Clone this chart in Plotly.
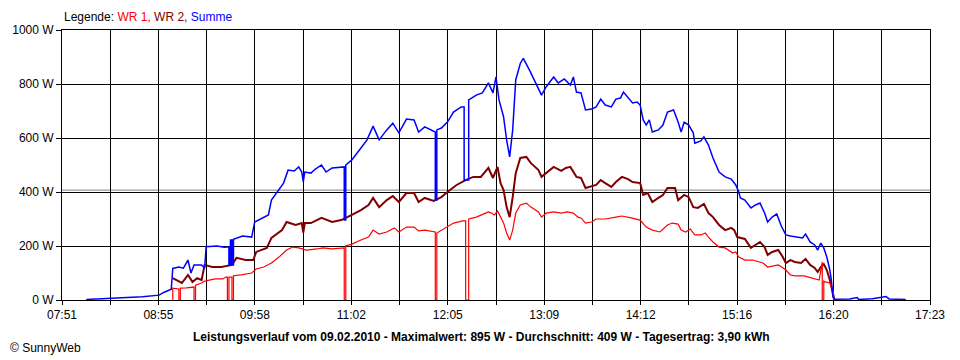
import numpy as np
import plotly.graph_objects as go

# ---------------- data ----------------
X_START = "07:51"
X_END = "17:23"
TICK_LABELS = ["07:51", "08:55", "09:58", "11:02", "12:05", "13:09", "14:12", "15:16", "16:20", "17:23"]
Y_TICKS = [0, 200, 400, 600, 800, 1000]
Y_TICK_LABELS = ["0 W", "200 W", "400 W", "600 W", "800 W", "1000 W"]

summe_times = [
    "08:07", "08:17", "08:30", "08:44", "08:55", "08:58", "09:03", "09:04", "09:08", "09:11",
    "09:14", "09:16", "09:18", "09:23", "09:25", "09:26", "09:33", "09:38", "09:41", "09:41",
    "09:42", "09:42", "09:43", "09:43", "09:44", "09:44", "09:50", "09:56", "09:58", "10:03",
    "10:07", "10:09", "10:14", "10:17", "10:20", "10:24", "10:27", "10:29", "10:30", "10:31",
    "10:35", "10:38", "10:42", "10:45", "10:49", "10:55", "10:57", "10:57", "10:58", "10:58",
    "11:02", "11:08", "11:12", "11:16", "11:20", "11:25", "11:29", "11:33", "11:38", "11:43",
    "11:46", "11:50", "11:56", "11:57", "11:57", "11:58", "11:58", "12:01", "12:05", "12:09",
    "12:14", "12:16", "12:16", "12:19", "12:19", "12:24", "12:28", "12:32", "12:35", "12:37",
    "12:39", "12:42", "12:44", "12:46", "12:48", "12:50", "12:53", "12:55", "12:59", "13:03",
    "13:07", "13:10", "13:15", "13:18", "13:22", "13:26", "13:28", "13:30", "13:33", "13:36",
    "13:40", "13:43", "13:46", "13:49", "13:53", "13:56", "13:59", "14:01", "14:04", "14:07",
    "14:10", "14:12", "14:14", "14:16", "14:18", "14:20", "14:24", "14:27", "14:30", "14:34",
    "14:37", "14:39", "14:41", "14:44", "14:47", "14:48", "14:52", "14:54", "14:57", "15:00",
    "15:04", "15:08", "15:12", "15:15", "15:17", "15:18", "15:21", "15:25", "15:28", "15:31",
    "15:34", "15:36", "15:39", "15:42", "15:45", "15:48", "15:51", "15:55", "15:59", "16:01",
    "16:04", "16:07", "16:09", "16:11", "16:13", "16:15", "16:17", "16:18", "16:19", "16:20",
    "16:30", "16:35", "16:36", "16:45", "16:54", "16:56", "17:07",
]
summe_values = [
    2, 4, 8, 12, 18, 28, 40, 117, 122, 118,
    148, 100, 130, 130, 118, 197, 200, 195, 197, 130,
    130, 222, 222, 130, 130, 225, 237, 233, 289, 304,
    315, 370, 407, 433, 481, 478, 493, 474, 437, 474,
    470, 485, 500, 474, 489, 493, 493, 296, 296, 500,
    519, 563, 593, 644, 593, 630, 655, 619, 670, 667,
    622, 641, 622, 622, 370, 370, 630, 637, 659, 696,
    715, 715, 444, 444, 741, 759, 767, 804, 767, 826,
    741, 678, 593, 530, 630, 815, 876, 895, 852, 807,
    759, 789, 826, 804, 819, 796, 826, 770, 767, 704,
    707, 715, 744, 722, 715, 744, 748, 770, 752, 730,
    733, 722, 667, 648, 667, 622, 630, 648, 696, 704,
    659, 622, 659, 648, 619, 581, 589, 604, 574, 526,
    474, 456, 448, 426, 400, 378, 370, 341, 352, 359,
    322, 289, 307, 319, 274, 241, 237, 233, 230, 244,
    215, 204, 185, 211, 193, 159, 111, 74, 11, 3,
    4, 9, 2, 5, 13, 4, 2,
]

wr1_times = [
    "09:04", "09:04", "09:08", "09:08", "09:09", "09:09", "09:13", "09:17", "09:18", "09:18",
    "09:19", "09:19", "09:23", "09:25", "09:32", "09:37", "09:39", "09:40", "09:40", "09:41",
    "09:41", "09:43", "09:43", "09:44", "09:44", "09:49", "09:56", "09:59", "10:04", "10:09",
    "10:14", "10:19", "10:23", "10:27", "10:32", "10:39", "10:43", "10:49", "10:55", "10:57",
    "10:57", "10:58", "10:58", "11:02", "11:08", "11:13", "11:16", "11:20", "11:25", "11:30",
    "11:33", "11:38", "11:43", "11:46", "11:50", "11:56", "11:57", "11:57", "11:58", "11:58",
    "12:04", "12:09", "12:15", "12:17", "12:17", "12:19", "12:19", "12:24", "12:29", "12:32",
    "12:34", "12:36", "12:38", "12:40", "12:42", "12:44", "12:46", "12:48", "12:50", "12:53",
    "12:57", "13:00", "13:05", "13:07", "13:10", "13:15", "13:20", "13:24", "13:28", "13:31",
    "13:33", "13:36", "13:40", "13:43", "13:49", "13:56", "14:00", "14:06", "14:12", "14:16",
    "14:20", "14:25", "14:30", "14:33", "14:37", "14:39", "14:42", "14:45", "14:48", "14:52",
    "14:55", "14:57", "15:00", "15:04", "15:08", "15:13", "15:15", "15:17", "15:21", "15:26",
    "15:30", "15:33", "15:36", "15:39", "15:43", "15:46", "15:48", "15:51", "15:54", "16:00",
    "16:03", "16:07", "16:10", "16:12", "16:12", "16:13", "16:13", "16:14", "16:17", "16:19",
    "16:20",
]
wr1_values = [
    0, 44, 41, 0, 0, 44, 45, 48, 48, 0,
    0, 55, 63, 70, 78, 78, 85, 85, 0, 0,
    85, 85, 0, 0, 90, 93, 100, 115, 122, 137,
    159, 185, 196, 193, 185, 189, 193, 189, 193, 193,
    0, 0, 200, 207, 222, 233, 259, 244, 252, 267,
    252, 270, 270, 256, 259, 252, 252, 0, 0, 248,
    267, 285, 293, 293, 0, 0, 300, 307, 319, 326,
    322, 315, 330, 307, 285, 248, 222, 259, 322, 352,
    359, 344, 326, 307, 322, 326, 322, 326, 322, 307,
    304, 285, 289, 300, 300, 307, 311, 304, 296, 270,
    259, 252, 278, 285, 281, 259, 252, 263, 241, 241,
    248, 233, 215, 196, 193, 174, 178, 159, 148, 148,
    141, 137, 122, 126, 130, 119, 111, 93, 89, 89,
    85, 78, 74, 141, 0, 0, 70, 67, 63, 37,
    0,
]

wr2_times = [
    "09:04", "09:10", "09:14", "09:17", "09:20", "09:23", "09:25", "09:30", "09:36", "09:43",
    "09:46", "09:52", "09:57", "09:59", "10:06", "10:09", "10:16", "10:19", "10:25", "10:29",
    "10:30", "10:31", "10:35", "10:42", "10:49", "10:55", "11:02", "11:08", "11:13", "11:16",
    "11:20", "11:25", "11:29", "11:33", "11:38", "11:43", "11:46", "11:50", "11:56", "12:01",
    "12:05", "12:11", "12:17", "12:22", "12:27", "12:32", "12:35", "12:38", "12:40", "12:42",
    "12:44", "12:46", "12:48", "12:50", "12:53", "12:57", "13:00", "13:05", "13:07", "13:10",
    "13:15", "13:20", "13:23", "13:26", "13:30", "13:33", "13:36", "13:43", "13:46", "13:49",
    "13:53", "13:56", "14:00", "14:04", "14:07", "14:12", "14:14", "14:17", "14:20", "14:24",
    "14:27", "14:30", "14:35", "14:37", "14:41", "14:44", "14:47", "14:50", "14:54", "14:57",
    "15:00", "15:04", "15:08", "15:12", "15:14", "15:16", "15:18", "15:21", "15:25", "15:28",
    "15:31", "15:34", "15:36", "15:39", "15:43", "15:46", "15:48", "15:51", "15:54", "15:58",
    "16:01", "16:04", "16:07", "16:09", "16:11", "16:13", "16:15", "16:17", "16:19", "16:20",
]
wr2_values = [
    81, 63, 93, 67, 81, 74, 130, 122, 122, 130,
    156, 148, 148, 178, 193, 230, 259, 289, 278, 285,
    250, 285, 285, 304, 289, 296, 315, 333, 352, 378,
    344, 370, 385, 363, 396, 396, 363, 378, 367, 381,
    400, 426, 444, 456, 456, 489, 452, 493, 433, 407,
    344, 307, 381, 470, 526, 530, 507, 481, 456, 470,
    493, 478, 489, 493, 456, 452, 415, 426, 444, 433,
    419, 437, 456, 448, 437, 433, 389, 396, 363, 378,
    389, 415, 415, 370, 389, 381, 344, 341, 356, 322,
    307, 278, 259, 267, 259, 233, 230, 226, 193, 204,
    215, 196, 167, 178, 185, 159, 137, 148, 141, 137,
    152, 130, 119, 104, 122, 133, 111, 74, 26, 0,
]

# ---------------- styles ----------------
FONT = "Liberation Sans, Arial, sans-serif"
C_WR1 = "#FF0000"
C_WR2 = "#800000"
C_SUM = "#0000FF"
GRAY_LINE_W = 407


def hm(s):
    h, m = s.split(":")
    return int(h) * 60 + int(m)


x0, x1 = hm(X_START), hm(X_END)
tickvals = list(np.linspace(x0, x1, 2 * (len(TICK_LABELS) - 1) + 1))
ticktext = []
for i, lab in enumerate(TICK_LABELS):
    ticktext.append(lab)
    if i < len(TICK_LABELS) - 1:
        ticktext.append("")

fig = go.Figure()
fig.add_trace(go.Scatter(x=[hm(t) for t in wr2_times], y=wr2_values, mode="lines",
                         line=dict(color=C_WR2, width=2), name="WR 2"))
fig.add_trace(go.Scatter(x=[hm(t) for t in wr1_times], y=wr1_values, mode="lines",
                         line=dict(color=C_WR1, width=1.2), name="WR 1"))
fig.add_trace(go.Scatter(x=[hm(t) for t in summe_times], y=summe_values, mode="lines",
                         line=dict(color=C_SUM, width=1.5), name="Summe"))

fig.add_shape(type="line", xref="paper", x0=0, x1=1, yref="y", y0=GRAY_LINE_W, y1=GRAY_LINE_W,
              line=dict(color="#808080", width=1), layer="below")

fig.update_layout(
    width=960, height=360,
    margin=dict(l=60, r=30, t=30, b=60),
    paper_bgcolor="white", plot_bgcolor="white",
    showlegend=False,
    font=dict(family=FONT, size=12, color="black"),
)
fig.update_xaxes(
    range=[x0, x1], tickmode="array", tickvals=tickvals, ticktext=ticktext,
    showgrid=True, gridcolor="black", gridwidth=1,
    ticks="outside", ticklen=4, tickcolor="black", tickwidth=1,
    showline=True, linecolor="black", linewidth=1, mirror=True, zeroline=False,
    tickfont=dict(family=FONT, size=12, color="black"),
)
fig.update_yaxes(
    range=[0, 1000], tickmode="array", tickvals=Y_TICKS, ticktext=Y_TICK_LABELS,
    showgrid=True, gridcolor="black", gridwidth=1,
    ticks="outside", ticklen=5, tickcolor="black", tickwidth=1,
    showline=True, linecolor="black", linewidth=1, mirror=True, zeroline=False,
    tickfont=dict(family=FONT, size=12, color="black"),
)

fig.add_annotation(
    xref="paper", yref="paper", x=0, y=(300 - 17) / 270, xanchor="left", yanchor="middle",
    showarrow=False, font=dict(family=FONT, size=12, color="black"),
    text=("Legende: <span style='color:#FF0000'>WR 1,</span> "
          "<span style='color:#800000'>WR 2,</span> "
          "<span style='color:#0000FF'>Summe</span>"),
)
fig.add_annotation(
    xref="paper", yref="paper", x=(480 - 60) / 870, y=(300 - 337) / 270,
    xanchor="center", yanchor="middle", showarrow=False,
    font=dict(family=FONT, size=12, color="black"),
    text="<b>Leistungsverlauf vom 09.02.2010 - Maximalwert: 895 W - Durchschnitt: 409 W - Tagesertrag: 3,90 kWh</b>",
)
fig.add_annotation(
    xref="paper", yref="paper", x=(6 - 60) / 870, y=(300 - 348) / 270,
    xanchor="left", yanchor="middle", showarrow=False,
    font=dict(family=FONT, size=12, color="black"),
    text="© SunnyWeb",
)

fig.write_html("out.html", config={"displayModeBar": False},
               post_script="document.body.style.margin='0';")
